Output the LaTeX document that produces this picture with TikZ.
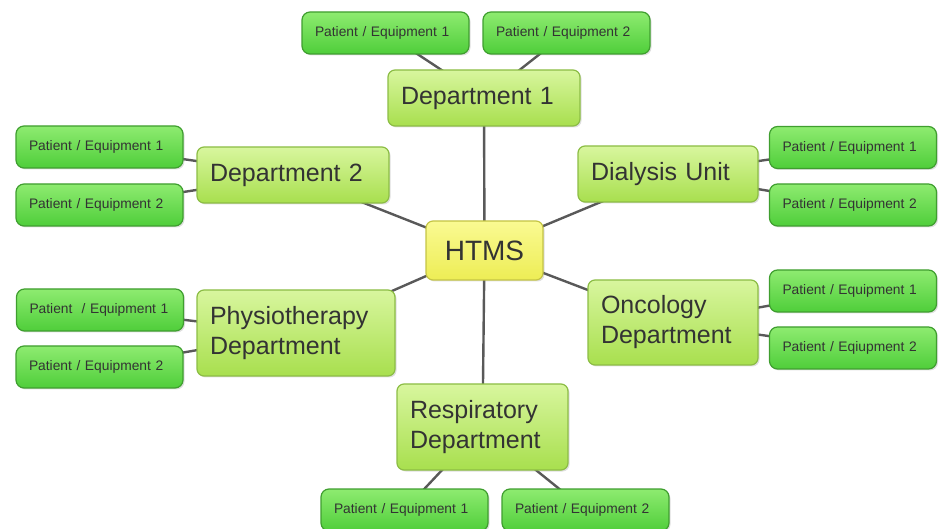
\documentclass[tikz,border=0pt]{standalone}
\usepackage{fontspec}
\setmainfont{Liberation Sans}
\usetikzlibrary{shadows, backgrounds}

\definecolor{txtgray}{HTML}{333333}
\definecolor{linkgray}{HTML}{595959}
\definecolor{hubtop}{HTML}{FAFA92}
\definecolor{hubbot}{HTML}{EDED55}
\definecolor{hubedge}{HTML}{C4C445}
\definecolor{depttop}{HTML}{D8F69E}
\definecolor{deptbot}{HTML}{A8DF4E}
\definecolor{deptedge}{HTML}{8CBD45}
\definecolor{itemtop}{HTML}{8EEB70}
\definecolor{itembot}{HTML}{4FCE3A}
\definecolor{itemedge}{HTML}{3F9E2F}

\begin{document}
\begin{tikzpicture}[
    x=1pt, y=-1pt,
    % Styles
    hub/.style={draw=hubedge, top color=hubtop, bottom color=hubbot, line width=1.2pt, rounded corners=7pt, minimum width=117pt, minimum height=59pt, font=\fontsize{28}{32}\selectfont, text=txtgray, drop shadow={shadow xshift=1.5pt, shadow yshift=-1.5pt, opacity=0.25}},
    dept/.style={draw=deptedge, top color=depttop, bottom color=deptbot, line width=1.2pt, rounded corners=7pt, inner xsep=13pt, align=left, minimum height=56pt, font=\fontsize{25}{30}\selectfont, text=txtgray, drop shadow={shadow xshift=1.5pt, shadow yshift=-1.5pt, opacity=0.25}},
    item/.style={draw=itemedge, top color=itemtop, bottom color=itembot, line width=1.2pt, rounded corners=8pt, inner xsep=13pt, text width=141pt, align=left, minimum height=42pt, font=\fontsize{13.8}{16}\selectfont, text=txtgray, drop shadow={shadow xshift=1.5pt, shadow yshift=-1.5pt, opacity=0.25}},
    link/.style={draw=linkgray, line width=2.4pt},
]
\useasboundingbox (0,0) rectangle (943,529);

% Centre
\node[hub] (htms) at (484.5, 250.5) {HTMS};

% Department 1
\node[dept, text width=166pt] (dep1) at (484, 98) {Department 1};
\node[item] (dep1a) at (385.5, 33) {Patient / Equipment 1};
\node[item] (dep1b) at (566.5, 33) {Patient / Equipment 2};

% Department 2
\node[dept, text width=166pt] (dep2) at (293, 175) {Department 2};
\node[item] (dep2a) at (99.5, 147) {Patient / Equipment 1};
\node[item] (dep2b) at (99.5, 205) {Patient / Equipment 2};

% Dialysis Unit
\node[dept, text width=154pt] (dial) at (668, 174) {Dialysis Unit};
\node[item] (diala) at (853, 147.5) {Patient / Equipment 1};
\node[item] (dialb) at (853, 205) {Patient / Equipment 2};

% Physiotherapy Department
\node[dept, text width=172pt, minimum height=86pt] (physio) at (296, 333) {Physiotherapy\\Department};
\node[item] (physioa) at (100, 310) {Patient \ / Equipment 1};
\node[item] (physiob) at (99.5, 367) {Patient / Equipment 2};

% Oncology Department
\node[dept, text width=144pt, minimum height=85pt] (onco) at (673, 322.5) {Oncology\\Department};
\node[item] (oncoa) at (853, 291) {Patient / Equipment 1};
\node[item] (oncob) at (853, 348) {Patient / Eqiupment 2};

% Respiratory Department
\node[dept, text width=145pt, minimum height=86pt] (resp) at (482.5, 427) {Respiratory\\Department};
\node[item] (respa) at (404.5, 510) {Patient / Equipment 1};
\node[item] (respb) at (585.5, 510) {Patient / Equipment 2};

% Connectors
\begin{scope}[on background layer]
    \draw[link] (htms.center) -- (dep1.center);
    \draw[link] (htms.center) -- (dep2.center);
    \draw[link] (htms.center) -- (dial.center);
    \draw[link] (htms.center) -- (physio.center);
    \draw[link] (htms.center) -- (onco.center);
    \draw[link] (htms.center) -- (resp.center);

    \draw[link] (dep1.center) -- (dep1a.center);
    \draw[link] (dep1.center) -- (dep1b.center);
    \draw[link] (dep2.center) -- (dep2a.center);
    \draw[link] (dep2.center) -- (dep2b.center);
    \draw[link] (dial.center) -- (diala.center);
    \draw[link] (dial.center) -- (dialb.center);
    \draw[link] (physio.center) -- (physioa.center);
    \draw[link] (physio.center) -- (physiob.center);
    \draw[link] (onco.center) -- (oncoa.center);
    \draw[link] (onco.center) -- (oncob.center);
    \draw[link] (resp.center) -- (respa.center);
    \draw[link] (resp.center) -- (respb.center);
\end{scope}

\end{tikzpicture}
\end{document}
